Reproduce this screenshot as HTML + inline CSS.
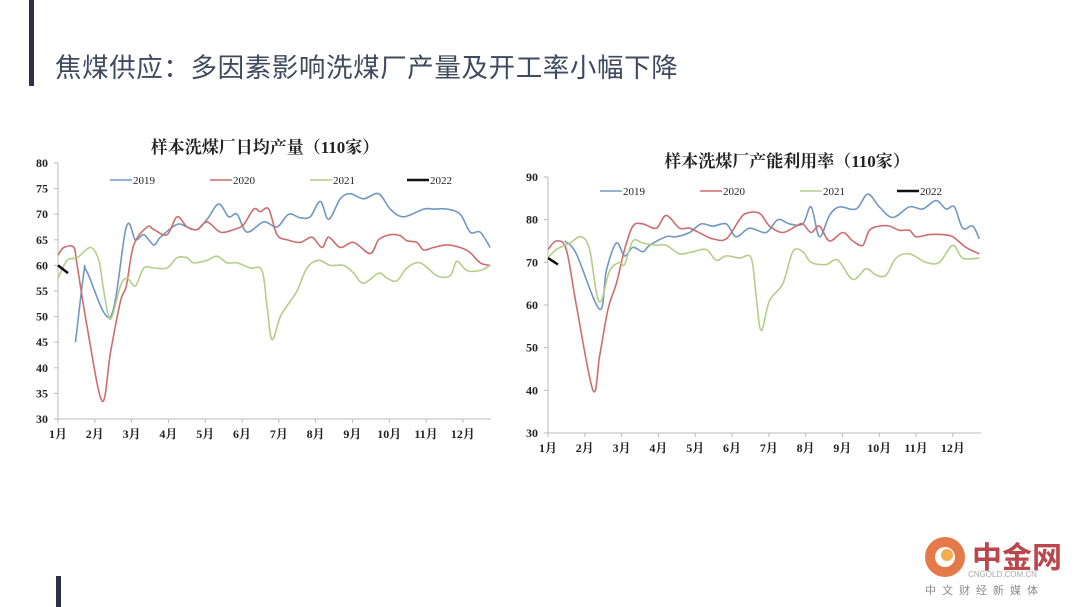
<!DOCTYPE html>
<html><head><meta charset="utf-8">
<style>
html,body{margin:0;padding:0;background:#fff;width:1080px;height:607px;overflow:hidden}
body{position:relative;font-family:"Liberation Sans","Noto Sans CJK SC",sans-serif}
.bar{position:absolute;background:#2b3245}
#title{position:absolute;left:55px;top:46px;font-size:26.5px;color:#3f4a5e;letter-spacing:0.6px;white-space:nowrap}
svg{position:absolute;left:0;top:0}
</style></head><body>
<div class="bar" style="left:29px;top:0;width:5px;height:86px"></div>
<div class="bar" style="left:56px;top:576px;width:5px;height:31px"></div>
<div id="title">焦煤供应：多因素影响洗煤厂产量及开工率小幅下降</div>
<svg id="svg" width="1080" height="607">
  <g opacity="0.85">
    <circle cx="945" cy="557" r="20" fill="#e0632a"/>
    <circle cx="945" cy="557" r="10" fill="#fff"/>
    <circle cx="947" cy="555" r="6" fill="#f0a030"/>
    <text x="972" y="568" font-size="30" font-weight="bold" fill="#b0282e" font-family="'Liberation Sans','Noto Sans CJK SC',sans-serif">中金网</text>
    <text x="968" y="577" font-size="8" fill="#999" font-family="'Liberation Sans',sans-serif">CNGOLD.COM.CN</text>
    <text x="925" y="594" font-size="11" fill="#777" letter-spacing="6" font-family="'Liberation Sans','Noto Sans CJK SC',sans-serif">中文财经新媒体</text>
  </g>
</svg>
<script>
// ---- data: left chart (daily output) ----
const monthLabels = ["1月","2月","3月","4月","5月","6月","7月","8月","9月","10月","11月","12月"];
const L_yTicks = [30,35,40,45,50,55,60,65,70,75,80];
const L_w2019 = [2.1,3.1,3.5,6.3,8.2,9.3,10.3,11.5,12.3,14.3,15.5,16.7,17.9,19.3,20.5,21.5,22.7,24.7,26.3,27.7,29.1,30.3,31.5,32.5,33.9,35.1,36.7,38.5,39.9,41.5,43.9,45.1,46.7,48.3,49.5,50.7,51.9];
const L_v2019 = [45,58.5,58.7,50,67.5,65,66,64,65.5,68,67.5,67,69,72,69.5,70,66.5,68.5,67.5,70,69.3,69.5,72.5,69,73,74,73,74,71,69.5,71,71,71,70,66.5,66.5,63.5];
const L_w2020 = [0,0.7,1.9,2.3,3.5,5.3,6.3,7.5,8.2,9.1,10.7,11.5,13.1,14.3,15.5,16.7,17.9,19.5,21.1,22.3,23.5,24.3,25.3,26.3,27.5,29.1,30.5,31.7,32.5,33.9,35.5,37.5,38.5,39.9,41.1,41.9,43.1,43.9,45.1,46.7,48.3,49.5,50.7,51.9];
const L_v2020 = [62,63.5,63.5,60,48,33.5,43,53,56,64,67.5,67,66,69.5,67.5,67,68.5,66.5,67,68,71,70.5,71,66,65,64.5,65.5,63.5,65.5,63.5,64.5,62.3,65,66,65.8,64.8,64.5,63,63.5,64,63.5,62.5,60.5,60];
const L_w2021 = [0,1.1,2.3,3.9,4.9,5.5,6.3,7.5,8.3,9.3,10.3,11.5,13.1,14.3,15.5,16.3,17.9,19.1,20.3,21.5,23.1,24.5,25.1,25.7,26.7,27.9,28.7,29.9,31.3,32.7,34.3,35.5,36.7,38.5,39.5,40.7,41.9,43.5,45.5,47.1,47.9,49.1,50.7,51.9];
const L_v2021 = [57.5,61,61.5,63.5,61,55,49.5,56,57.5,56,59.5,59.5,59.5,61.5,61.5,60.5,61,61.8,60.5,60.5,59.5,59,52,45.5,50,53,55,59.5,61,60,60,58.5,56.5,58.5,57.5,57,59.5,60.5,58,58,60.8,59,59,60];
const L_w2022 = [0,1.2];
const L_v2022 = [60,58.5];
// ---- data: right chart (utilization) ----
const R_yTicks = [30,40,50,60,70,80,90];
const R_w2019 = [2.0,3.4,6.2,7.0,8.2,9.2,10.2,11.4,12.2,14.2,15.4,17,18.4,19.8,21.4,22.6,24.2,26.2,27.6,29,30.6,31.6,32.6,33.8,35,37,38.4,39.8,41.4,43.4,45,46.6,47.8,48.8,49.8,51,51.8];
const R_v2019 = [75,72,59,68,74.5,71.5,73.5,72.5,74,76,76,77,79,78.5,79,76,78,77,80,79,79,83,76,81,83,82.5,86,83,80.5,83,82.5,84.5,82.5,83,78,78.5,75.5];
const R_w2020 = [0,1,2.2,3.4,5.4,6.2,7.2,8.2,9.2,10.2,11.4,13,14.2,15.8,17,18.6,19.8,21.4,23,23.8,25.4,26.6,28.2,29.8,30.6,31.6,32.6,33.8,35.4,36.6,37.8,38.6,39.8,41,42.2,43.4,44.2,45.8,47.4,48.6,50.2,51.8];
const R_v2020 = [73,75,73,60,40,48,59,65,73,78.5,79,78,81,78,78,76.5,75.5,75.5,80,81.5,81.5,78.5,77,78.5,79,77,78.5,75,77,75,74,77.5,78.5,78.5,77.5,77.5,76,76.5,76.5,76,73.5,72];
const R_w2021 = [0,1,2.6,4,5,5.8,6.4,7.4,8.6,9.2,10.2,11.4,13,14.2,15.8,17.4,19,20.2,21.4,23,24.4,25,25.6,26.6,28.2,29.4,30.6,31.6,33.4,34.8,36.6,38.2,39.4,40.6,41.8,43.4,45.4,47,48.6,49.8,51.8];
const R_v2021 = [71,73,74.5,76,73,63,61,68,70,69.5,75,74.5,74,74,72,72.5,73,70.5,71.5,71,71,62,54,61,65,72.5,72.5,70,69.5,70.5,66,68.5,67,67,71,72,70,70,74,71,71];
const R_w2022 = [0,1.2];
const R_v2022 = [71,69.5];

const seriesNames = ["2019","2020","2021","2022"];
const seriesColors = ["#7098c2","#cd6d6d","#b6cd8a","#111"];
const NS="http://www.w3.org/2000/svg";
const svg=document.getElementById('svg');
function mk(tag,attrs,parent){const e=document.createElementNS(NS,tag);for(const k in attrs)e.setAttribute(k,attrs[k]);(parent||svg).appendChild(e);return e;}
function smooth(pts){
  let d="M"+pts[0][0]+","+pts[0][1];
  for(let i=0;i<pts.length-1;i++){
    const p0=pts[Math.max(0,i-1)],p1=pts[i],p2=pts[i+1],p3=pts[Math.min(pts.length-1,i+2)];
    const c1x=p1[0]+(p2[0]-p0[0])/6,c1y=p1[1]+(p2[1]-p0[1])/6;
    const c2x=p2[0]-(p3[0]-p1[0])/6,c2y=p2[1]-(p3[1]-p1[1])/6;
    d+=` C${c1x.toFixed(1)},${c1y.toFixed(1)} ${c2x.toFixed(1)},${c2y.toFixed(1)} ${p2[0].toFixed(1)},${p2[1].toFixed(1)}`;
  }
  return d;
}
function chart(cfg){
  const g=mk('g',{});
  
  
  const xs=w=>cfg.x0+(w/52)*(cfg.x1-cfg.x0);
  const ys=v=>cfg.y1-(v-cfg.ymin)/(cfg.ymax-cfg.ymin)*(cfg.y1-cfg.y0);
  const t=mk('text',{x:cfg.tx,y:cfg.ty,'text-anchor':'middle','font-size':17,'font-weight':'bold',fill:'#222','font-family':"'Liberation Serif','Noto Serif CJK SC',serif"},g);
  t.textContent=cfg.title;
  
  
  const ax=mk('path',{d:`M${cfg.x0},${cfg.y0} V${cfg.y1} H${cfg.x1}`,stroke:'#bbb',fill:'none','stroke-width':1},g);
  
  
  cfg.yTicks.forEach(v=>{
    mk('line',{x1:cfg.x0-4,x2:cfg.x0,y1:ys(v),y2:ys(v),stroke:'#bbb'},g);
    const l=mk('text',{x:cfg.x0-10,y:ys(v)+4,'text-anchor':'end','font-size':12,fill:'#222','font-weight':'bold','font-family':"'Liberation Serif',serif"},g);
    l.textContent=v;
    
    
  });
  const mstep=(cfg.x1-cfg.x0)*0.935/11;
  monthLabels.forEach((m,i)=>{
    const x=cfg.x0+i*mstep;
    mk('line',{x1:x,x2:x,y1:cfg.y1,y2:cfg.y1+4,stroke:'#bbb'},g);
    const l=mk('text',{x:x,y:cfg.y1+19,'text-anchor':'middle','font-size':12,fill:'#222','font-weight':'bold','font-family':"'Liberation Serif','Noto Serif CJK SC',serif"},g);
    l.textContent=m;
    
    
  });
  cfg.series.forEach((s,i)=>{
    const pts=s[0].map((w,j)=>[xs(w),ys(s[1][j])]);
    const p=mk('path',{d:smooth(pts),fill:'none',stroke:seriesColors[i],'stroke-width':i==3?2.5:1.6},g);
    
    
    const lx=cfg.legX[i];
    const lg=mk('g',{},g);
    
    
    mk('line',{x1:lx,x2:lx+22,y1:cfg.legY,y2:cfg.legY,stroke:seriesColors[i],'stroke-width':i==3?2.5:1.5},lg);
    const lt=mk('text',{x:lx+23,y:cfg.legY+4,'font-size':11,fill:'#222','font-family':"'Liberation Serif',serif"},lg);
    lt.textContent=seriesNames[i];
  });
}
chart({name:'daily-output-chart',title:'样本洗煤厂日均产量（110家）',tx:265,ty:153,x0:58,x1:491,y0:163,y1:419,ymin:30,ymax:80,yTicks:L_yTicks,legY:180,legX:[110,210,310,407],
  series:[[L_w2019,L_v2019],[L_w2020,L_v2020],[L_w2021,L_v2021],[L_w2022,L_v2022]]});
chart({name:'utilization-chart',title:'样本洗煤厂产能利用率（110家）',tx:787,ty:167,x0:548,x1:981,y0:177,y1:433,ymin:30,ymax:90,yTicks:R_yTicks,legY:191,legX:[600,700,800,897],
  series:[[R_w2019,R_v2019],[R_w2020,R_v2020],[R_w2021,R_v2021],[R_w2022,R_v2022]]});
</script>
</body></html>
